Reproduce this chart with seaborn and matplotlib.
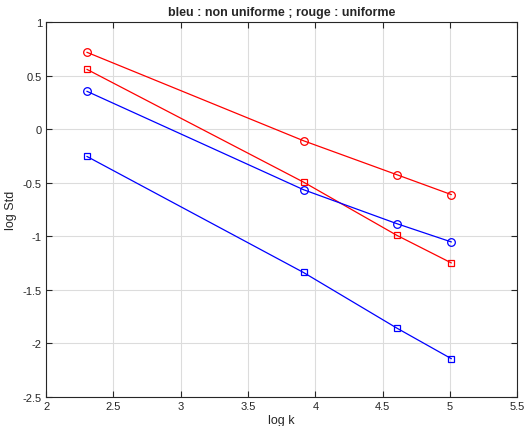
import matplotlib
matplotlib.use("Agg")
import matplotlib.pyplot as plt
import seaborn as sns
import pandas as pd
import numpy as np

log_k = [2.3026, 3.9120, 4.6052, 5.0106]
rouge_cercles = [0.718, -0.108, -0.425, -0.611]
rouge_carres = [0.559, -0.494, -0.991, -1.249]
bleu_cercles = [0.354, -0.565, -0.882, -1.053]
bleu_carres = [-0.254, -1.338, -1.857, -2.143]

sns.set_style("white")
plt.rcParams['font.family'] = ['Liberation Sans', 'DejaVu Sans']

fig = plt.figure(figsize=(5.3, 4.27), dpi=100)
ax = fig.add_axes([0.087, 0.068, 0.889, 0.878])

series = [
    (rouge_cercles, 'red', 'o', 5.5),
    (rouge_carres, 'red', 's', 4.5),
    (bleu_cercles, 'blue', 'o', 5.5),
    (bleu_carres, 'blue', 's', 4.5),
]
for vals, col, mk, ms in series:
    df = pd.DataFrame({'x': log_k, 'y': vals})
    sns.lineplot(data=df, x='x', y='y', ax=ax, color=col, marker=mk,
                 markersize=ms, markerfacecolor='none', markeredgecolor=col,
                 markeredgewidth=0.9, linewidth=0.9, sort=False, estimator=None)

ax.set_xlim(2, 5.5)
ax.set_ylim(-2.5, 1)
ax.set_xticks(np.arange(2, 5.51, 0.5))
ax.set_yticks(np.arange(-2.5, 1.01, 0.5))
ax.set_xticklabels(['2', '2.5', '3', '3.5', '4', '4.5', '5', '5.5'])
ax.set_yticklabels(['-2.5', '-2', '-1.5', '-1', '-0.5', '0', '0.5', '1'])
ax.grid(True, color='#dcdcdc', linewidth=0.8)
ax.set_axisbelow(True)
for s in ax.spines.values():
    s.set_visible(True)
    s.set_color('#262626')
    s.set_linewidth(0.8)
ax.tick_params(direction='in', length=4, width=0.8, labelsize=8, colors='#262626',
               top=True, right=True, bottom=True, left=True, pad=3)
ax.set_xlabel('log k', fontsize=9, labelpad=2)
ax.set_ylabel('log Std', fontsize=9, labelpad=4)
ax.set_title('bleu : non uniforme ; rouge : uniforme', fontsize=9, fontweight='bold', pad=5)

fig.savefig('out.png', dpi=100)
